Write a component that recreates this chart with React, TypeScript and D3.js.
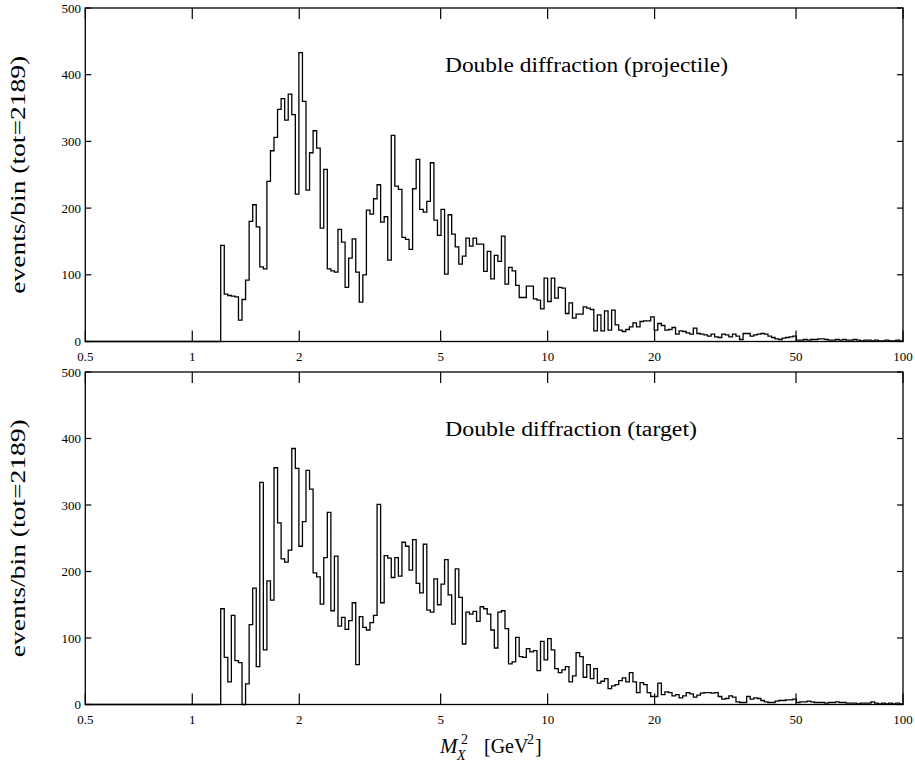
import React from 'react';
import * as d3 from 'd3';

// log10 of the lower edge of the first filled bin, and the bin width in log10 units
const firstBinLog10 = 0.08;
const binWidthLog10 = 0.01;

const xTicks = [0.5, 1, 2, 5, 10, 20, 50, 100];
const xTickLabels = ['0.5', '1', '2', '5', '10', '20', '50', '100'];
const yTicks = [0, 100, 200, 300, 400, 500];

const projectile = [
  144, 71, 69, 68, 67, 32, 63, 92, 180, 205, 172, 112, 109, 240, 286, 306, 348, 364, 332, 371, 340, 221, 433, 360, 227, 283, 316, 290, 170, 258, 109, 106, 104, 168, 149, 81, 125,
  154, 104, 59, 100, 197, 191, 214, 235, 179, 187, 122, 309, 233, 228, 156, 153, 138, 229, 273, 198, 194, 210, 268, 182, 159, 198, 101, 190, 161, 142, 116, 128, 155, 143, 155, 146, 146,
  105, 135, 94, 129, 120, 158, 86, 111, 106, 84, 66, 66, 83, 83, 64, 62, 49, 95, 60, 95, 65, 81, 80, 42, 58, 35, 41, 41, 52, 50, 48, 16, 40, 16, 46, 17, 47,
  25, 17, 15, 18, 22, 28, 22, 30, 31, 31, 37, 17, 27, 24, 17, 18, 21, 11, 16, 15, 13, 11, 20, 12, 11, 10, 8, 11, 7, 6, 11, 10, 7, 11, 8, 3, 12, 12, 8,
  10, 11, 12, 11, 8, 6, 4, 3, 5, 6, 7, 8, 2, 2, 3, 2, 3, 3, 4, 4, 3, 2, 2, 3, 2, 3, 2, 2, 3, 2, 1, 2, 2, 1, 2, 1, 1, 2, 1, 1, 2, 1,
];

const target = [
  144, 71, 34, 134, 66, 63, 0, 31, 120, 175, 57, 334, 82, 186, 157, 356, 273, 219, 214, 232, 385, 355, 238, 275, 352, 324, 198, 192, 151, 221, 289, 141, 223, 118, 131, 113, 126,
  153, 60, 132, 116, 112, 123, 134, 301, 153, 224, 220, 191, 221, 193, 244, 238, 202, 248, 182, 168, 241, 142, 139, 189, 150, 181, 218, 165, 121, 204, 161, 91, 139, 136, 140, 125, 147,
  144, 136, 112, 85, 139, 141, 114, 61, 64, 101, 72, 71, 84, 79, 81, 51, 95, 67, 99, 82, 54, 48, 52, 57, 34, 43, 78, 72, 41, 60, 39, 54, 32, 35, 39, 24, 28,
  30, 36, 40, 34, 48, 34, 18, 33, 30, 18, 12, 12, 32, 15, 19, 18, 13, 15, 10, 13, 18, 16, 11, 14, 17, 18, 18, 17, 18, 12, 8, 9, 13, 11, 4, 3, 3, 12, 8,
  10, 9, 6, 4, 3, 3, 5, 6, 6, 7, 7, 8, 3, 4, 4, 5, 4, 3, 3, 3, 2, 3, 3, 4, 3, 3, 2, 2, 2, 1, 2, 2, 2, 4, 2, 1, 2, 1, 2, 1, 2, 1,
];

const W = 915;
const H = 767;
const X0 = 85.3;
const X1 = 903;
const FONT = '"Liberation Serif", "DejaVu Serif", serif';

type PanelProps = { top: number; bottom: number; values: number[]; title: string; titleLen: number };

function Panel({ top, bottom, values, title, titleLen }: PanelProps) {
  const x = d3.scaleLog().domain([0.5, 100]).range([X0, X1]);
  const y = d3.scaleLinear().domain([0, 500]).range([bottom, top]);
  const pts: [number, number][] = [[0.5, 0]];
  values.forEach((v, i) => {
    pts.push([Math.pow(10, firstBinLog10 + i * binWidthLog10), v]);
  });
  pts.push([100, 0]);
  const line = d3
    .line<[number, number]>()
    .x((d) => x(d[0]))
    .y((d) => y(d[1]))
    .curve(d3.curveStepAfter);
  const path = line(pts) || '';
  const cy = (top + bottom) / 2;
  return (
    <g>
      <path d={path} fill="none" stroke="#000" strokeWidth={1.3} />
      <rect x={X0} y={top} width={X1 - X0} height={bottom - top} fill="none" stroke="#000" strokeWidth={1.3} />
      {xTicks.map((t, i) => (
        <g key={'x' + i}>
          <line x1={x(t)} x2={x(t)} y1={bottom} y2={bottom - 11} stroke="#000" strokeWidth={1.2} />
          <line x1={x(t)} x2={x(t)} y1={top} y2={top + 11} stroke="#000" strokeWidth={1.2} />
          <text x={x(t)} y={bottom + 19.5} textAnchor="middle" fontSize={13} fontFamily={FONT}>
            {xTickLabels[i]}
          </text>
        </g>
      ))}
      {yTicks.map((t, i) => (
        <g key={'y' + i}>
          <line x1={X0} x2={X0 + 6} y1={y(t)} y2={y(t)} stroke="#000" strokeWidth={1.2} />
          <line x1={X1} x2={X1 - 6} y1={y(t)} y2={y(t)} stroke="#000" strokeWidth={1.2} />
          <text x={81} y={y(t) + 4.5} textAnchor="end" fontSize={13} fontFamily={FONT}>
            {t}
          </text>
        </g>
      ))}
      <text
        transform={`translate(25,${cy}) rotate(-90)`}
        textAnchor="middle"
        fontSize={20}
        fontFamily={FONT}
        textLength={238}
        lengthAdjust="spacingAndGlyphs"
      >
        events/bin (tot=2189)
      </text>
      <text x={445} y={top + 64} fontSize={20} fontFamily={FONT} textLength={titleLen} lengthAdjust="spacingAndGlyphs">
        {title}
      </text>
    </g>
  );
}

export default function App() {
  return (
    <svg width={W} height={H} style={{ position: 'absolute', left: 0, top: 0, background: '#fff' }}>
      <rect x={0} y={0} width={W} height={H} fill="#fff" />
      <Panel top={8} bottom={341.5} values={projectile} title="Double diffraction (projectile)" titleLen={283} />
      <Panel top={372} bottom={704.5} values={target} title="Double diffraction (target)" titleLen={252} />
      <text fontFamily={FONT} fontSize={21}>
        <tspan x={440} y={753} fontStyle="italic">M</tspan>
        <tspan x={461} y={744} fontSize={14}>2</tspan>
        <tspan x={457} y={760} fontSize={14} fontStyle="italic">X</tspan>
        <tspan x={484} y={753} fontSize={20}>[GeV</tspan>
        <tspan x={527} y={744} fontSize={14}>2</tspan>
        <tspan x={535} y={753} fontSize={20}>]</tspan>
      </text>
    </svg>
  );
}
